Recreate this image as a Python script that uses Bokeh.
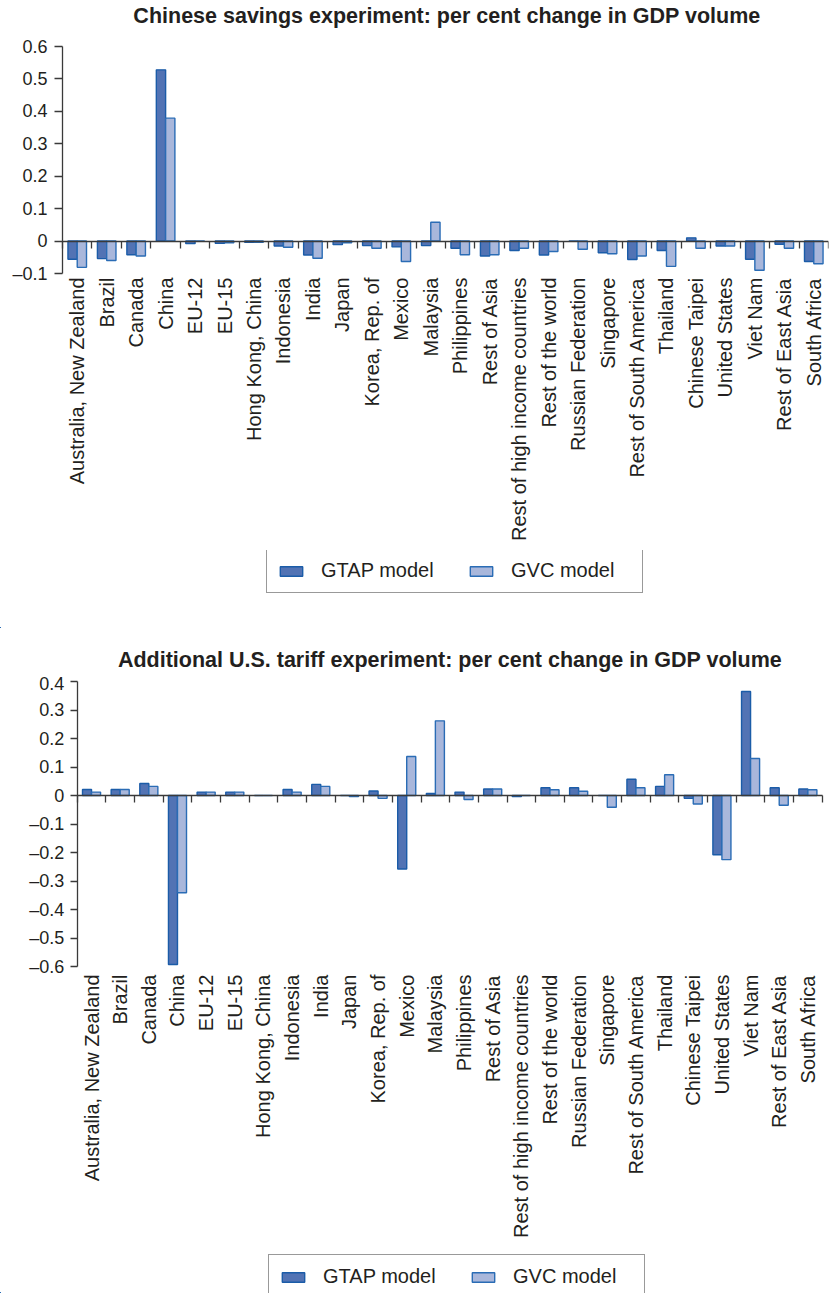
from math import pi
from bokeh.plotting import figure
from bokeh.models import (ColumnDataSource, Range1d, LinearAxis, FixedTicker,
                          Legend, LegendItem, Label)
from bokeh.transform import dodge
from bokeh.layouts import column
from bokeh.embed import file_html
from bokeh.resources import INLINE

countries = ["Australia, New Zealand", "Brazil", "Canada", "China", "EU-12", "EU-15",
             "Hong Kong, China", "Indonesia", "India", "Japan", "Korea, Rep. of", "Mexico",
             "Malaysia", "Philippines", "Rest of Asia", "Rest of high income countries",
             "Rest of the world", "Russian Federation", "Singapore", "Rest of South America",
             "Thailand", "Chinese Taipei", "United States", "Viet Nam", "Rest of East Asia",
             "South Africa"]

series_names = ["GTAP model", "GVC model"]

savings_title = "Chinese savings experiment: per cent change in GDP volume"
savings_gtap = [-0.056, -0.054, -0.042, 0.528, -0.008, -0.007, -0.004, -0.015, -0.043,
                -0.011, -0.014, -0.018, -0.014, -0.022, -0.046, -0.029, -0.043, 0.0,
                -0.036, -0.057, -0.029, 0.010, -0.015, -0.056, -0.010, -0.063]
savings_gvc = [-0.081, -0.060, -0.046, 0.379, -0.001, -0.005, -0.004, -0.019, -0.053,
               -0.005, -0.022, -0.063, 0.058, -0.042, -0.042, -0.022, -0.032, -0.025,
               -0.039, -0.046, -0.078, -0.022, -0.015, -0.090, -0.022, -0.070]
savings_ticks = [-0.1, 0, 0.1, 0.2, 0.3, 0.4, 0.5, 0.6]
savings_tick_labels = ["\u20130.1", "0", "0.1", "0.2", "0.3", "0.4", "0.5", "0.6"]

tariff_title = "Additional U.S. tariff experiment: per cent change in GDP volume"
tariff_gtap = [0.021, 0.021, 0.042, -0.593, 0.012, 0.012, 0.0, 0.021, 0.039, 0.0,
               0.016, -0.258, 0.007, 0.012, 0.023, -0.004, 0.027, 0.027, 0.0, 0.057,
               0.032, -0.010, -0.208, 0.365, 0.027, 0.023]
tariff_gvc = [0.012, 0.021, 0.032, -0.341, 0.012, 0.012, 0.0, 0.012, 0.032, -0.004,
              -0.010, 0.137, 0.262, -0.014, 0.023, 0.0, 0.020, 0.015, -0.041, 0.027,
              0.073, -0.030, -0.225, 0.130, -0.034, 0.020]
tariff_ticks = [-0.6, -0.5, -0.4, -0.3, -0.2, -0.1, 0, 0.1, 0.2, 0.3, 0.4]
tariff_tick_labels = ["\u20130.6", "\u20130.5", "\u20130.4", "\u20130.3", "\u20130.2",
                      "\u20130.1", "0", "0.1", "0.2", "0.3", "0.4"]

FONT = "Liberation Sans"
TEXT = "#231f20"
AXIS = "#3a3a3a"
GTAP_FILL, GTAP_LINE = "#5273b4", "#1b5ca8"
GVC_FILL, GVC_LINE = "#a9b7db", "#2a6cb5"
BAR_W = 0.315
W = 829
FRAME_RIGHT = 828   # every frame spans 0 .. FRAME_RIGHT px horizontally


def base_fig(height, top, bottom, x_range, y_range):
    p = figure(width=W, height=height, x_range=x_range, y_range=y_range,
               x_axis_type=None, y_axis_type=None,
               output_backend="svg", toolbar_location=None, tools="",
               min_border_left=0, min_border_right=W - FRAME_RIGHT,
               min_border_top=top, min_border_bottom=bottom)
    p.outline_line_color = None
    p.background_fill_color = "white"
    p.border_fill_color = "white"
    return p


def make_title_fig(text, height, center_x, caps_from_top):
    tf = base_fig(height, 0, 0, Range1d(0, FRAME_RIGHT), Range1d(0, height))
    tf.add_layout(Label(x=center_x, y=height - caps_from_top, text=text,
                        text_align="center", text_baseline="middle",
                        text_font=FONT, text_font_size="21.5px",
                        text_font_style="bold", text_color=TEXT))
    return tf


def make_chart(gtap, gvc, ticks, tick_labels, height, core_h, pads, axis_px, end_px,
               tick_out, tick_standoff, label_standoff):
    n = len(countries)
    idx = list(range(n))
    unit = (end_px - axis_px) / n
    x_range = Range1d(-0.5 - axis_px / unit, n - 0.5 + (FRAME_RIGHT - end_px) / unit)
    lo, hi = ticks[0], ticks[-1]
    per_px = (hi - lo) / core_h
    y_range = Range1d(lo - pads[1] * per_px, hi + pads[0] * per_px)
    bottom = height - core_h - pads[0] - pads[1]
    src = ColumnDataSource(dict(x=idx, gtap=gtap, gvc=gvc))
    p = base_fig(height, 0, bottom, x_range, y_range)

    p.vbar(x=dodge("x", -BAR_W / 2), top="gtap", bottom=0, width=BAR_W, source=src,
           fill_color=GTAP_FILL, line_color=GTAP_LINE, line_width=1.4)
    p.vbar(x=dodge("x", BAR_W / 2), top="gvc", bottom=0, width=BAR_W, source=src,
           fill_color=GVC_FILL, line_color=GVC_LINE, line_width=1.4)

    # value axis, drawn at the left edge of the first category
    yax = LinearAxis(ticker=FixedTicker(ticks=ticks), fixed_location=-0.5,
                     bounds=(lo, hi),
                     major_label_overrides=dict(zip(ticks, tick_labels)))
    yax.axis_line_color = AXIS
    yax.axis_line_width = 1.3
    yax.major_tick_line_color = AXIS
    yax.major_tick_line_width = 1.3
    yax.major_tick_in = 0
    yax.major_tick_out = tick_out
    yax.minor_tick_line_color = None
    yax.major_label_standoff = tick_standoff
    yax.major_label_text_font = FONT
    yax.major_label_text_font_size = "18px"
    yax.major_label_text_color = TEXT
    p.add_layout(yax, "left")

    # category labels
    lax = LinearAxis(ticker=FixedTicker(ticks=idx),
                     major_label_overrides={i: c for i, c in zip(idx, countries)})
    lax.axis_line_color = None
    lax.major_tick_line_color = None
    lax.minor_tick_line_color = None
    lax.major_tick_in = 0
    lax.major_tick_out = 0
    lax.major_label_orientation = pi / 2
    lax.major_label_standoff = label_standoff - pads[1]
    lax.major_label_text_font = FONT
    lax.major_label_text_font_size = "20px"
    lax.major_label_text_color = TEXT
    p.add_layout(lax, "below")

    # zero line with category boundary ticks
    zax = LinearAxis(ticker=FixedTicker(ticks=[i - 0.5 for i in range(n + 1)]),
                     fixed_location=0, bounds=(-0.5, n - 0.5))
    zax.axis_line_color = AXIS
    zax.axis_line_width = 1.5
    zax.major_tick_line_color = AXIS
    zax.major_tick_line_width = 1.3
    zax.major_tick_in = 0
    zax.major_tick_out = 7
    zax.minor_tick_line_color = None
    zax.major_label_text_font_size = "0px"
    zax.major_label_text_color = None
    zax.major_label_standoff = 0
    p.add_layout(zax, "below")
    return p, src


def make_legend_fig(height, loc, src):
    # the proxy bars lie outside this figure's ranges; only the legend shows
    lf = base_fig(height, 0, 0, Range1d(30, 31), Range1d(2, 3))
    g1 = lf.vbar(x="x", top="gtap", width=BAR_W, source=src,
                 fill_color=GTAP_FILL, line_color=GTAP_LINE, line_width=1.4)
    g2 = lf.vbar(x="x", top="gvc", width=BAR_W, source=src,
                 fill_color=GVC_FILL, line_color=GVC_LINE, line_width=1.4)
    legend = Legend(items=[LegendItem(label=series_names[0], renderers=[g1]),
                           LegendItem(label=series_names[1], renderers=[g2])],
                    location=loc, orientation="horizontal",
                    padding=10, spacing=25, label_standoff=16, margin=0,
                    glyph_width=28, glyph_height=12, label_width=121,
                    label_text_font=FONT, label_text_font_size="20px",
                    label_text_color=TEXT,
                    border_line_color="#333333", border_line_width=1.2,
                    background_fill_color="white", background_fill_alpha=1)
    lf.add_layout(legend)
    return lf


t1 = make_title_fig(savings_title, 34, 446.5, 15.3)
p1, s1 = make_chart(savings_gtap, savings_gvc, savings_ticks, savings_tick_labels,
                    516, 227, (12, 12), 62, 828, 8, 7, 4)
leg1 = make_legend_fig(78, (266, 35), s1)
t2 = make_title_fig(tariff_title, 45, 449.5, 31)
p2, s2 = make_chart(tariff_gtap, tariff_gvc, tariff_ticks, tariff_tick_labels,
                    581, 285, (8, 12), 76.7, 821.7, 7, 6, 8)
leg2 = make_legend_fig(39, (268, -6), s2)

layout = column(t1, p1, leg1, t2, p2, leg2, spacing=0)
open("out.html", "w").write(file_html(layout, INLINE))
